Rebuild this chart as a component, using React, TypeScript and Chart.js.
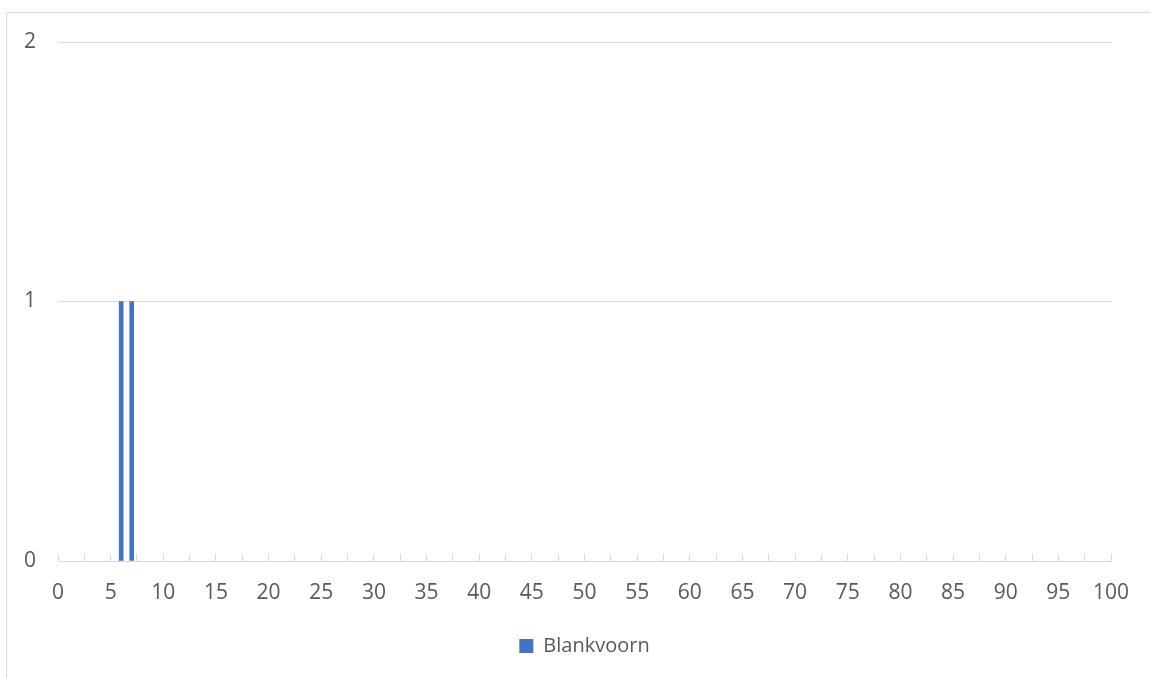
import React, { useEffect, useRef } from "react";
import { Chart, registerables } from "chart.js";

Chart.register(...registerables);

const lengthClasses: number[] = [6, 7];
const counts: number[] = [1, 1];
const seriesName = "Blankvoorn";
const xMin = 0;
const xMax = 100;
const yMax = 2;

const TEXT = "#595959";
const GRID = "#d9d9d9";
const BAR = "#4472C4";
const FONT = "'Open Sans', 'Noto Sans', sans-serif";

export default function App() {
  const ref = useRef<HTMLCanvasElement | null>(null);
  useEffect(() => {
    if (!ref.current) return;
    document.body.style.overflow = "hidden";
    const chart = new Chart(ref.current, {
      type: "bar",
      data: {
        datasets: [
          {
            label: seriesName,
            data: lengthClasses.map((x, i) => ({ x, y: counts[i] })),
            backgroundColor: BAR,
            borderWidth: 0,
            barThickness: 4,
          },
        ],
      },
      options: {
        animation: false,
        responsive: false,
        devicePixelRatio: 1,
        layout: { padding: { left: 10, right: 40, top: 42, bottom: 12 } },
        scales: {
          x: {
            type: "linear",
            min: xMin,
            max: xMax,
            offset: false,
            afterFit: (s: any) => {
              s.height = 65;
              s.paddingRight = 0;
              s.paddingLeft = 0;
            },
            grid: {
              offset: false,
              drawOnChartArea: false,
              drawTicks: true,
              tickLength: -7,
              tickColor: GRID,
              color: GRID,
            },
            border: { display: true, color: GRID, width: 1 },
            ticks: {
              stepSize: 2.5,
              autoSkip: false,
              maxRotation: 0,
              padding: 26,
              color: TEXT,
              font: { family: FONT, size: 21 },
              callback: (v: any) => (Number(v) % 5 === 0 ? String(v) : ""),
            },
          },
          y: {
            min: 0,
            max: yMax,
            afterFit: (s: any) => {
              s.width = 48;
            },
            grid: { color: GRID, drawTicks: false },
            border: { display: false },
            ticks: {
              stepSize: 1,
              padding: 22,
              color: TEXT,
              font: { family: FONT, size: 21 },
            },
          },
        },
        plugins: {
          legend: {
            position: "bottom",
            fullSize: false,
            labels: {
              boxWidth: 14,
              boxHeight: 14,
              padding: 10,
              color: TEXT,
              font: { family: FONT, size: 20 },
            },
          },
          tooltip: { enabled: false },
        },
      } as any,
    });
    return () => chart.destroy();
  }, []);
  return (
    <div>
      <div
        style={{
          position: "fixed",
          left: 6,
          top: 12,
          width: 1200,
          height: 700,
          borderTop: `1px solid ${GRID}`,
          borderLeft: `1px solid ${GRID}`,
        }}
      />
      <canvas
        ref={ref}
        width={1151}
        height={678}
        style={{ position: "fixed", left: 0, top: 0, width: 1151, height: 678 }}
      />
    </div>
  );
}
